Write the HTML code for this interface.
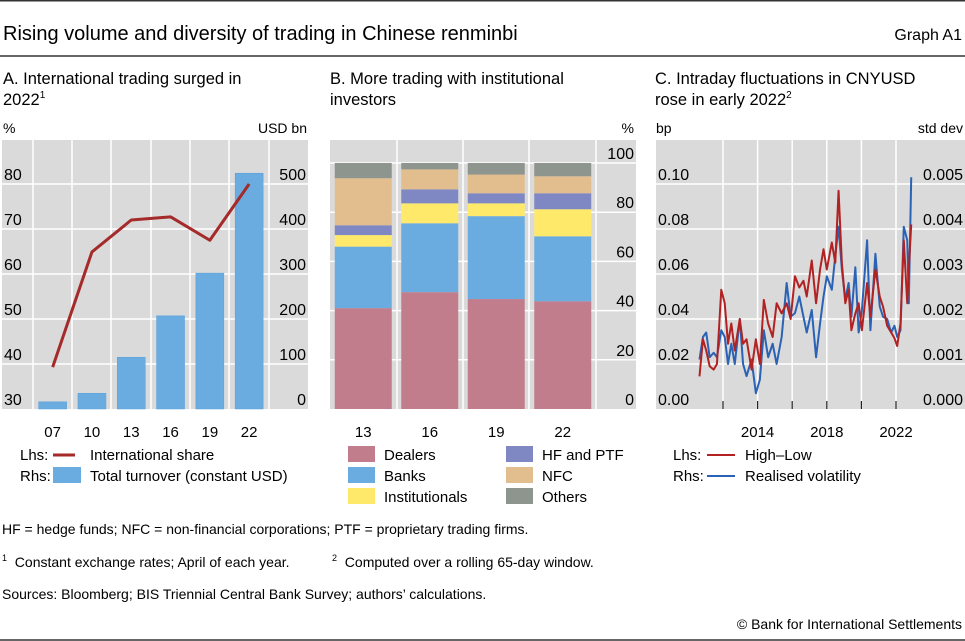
<!DOCTYPE html>
<html><head><meta charset="utf-8">
<style>
body{margin:0;background:#fff;width:965px;height:641px;overflow:hidden;font-family:"Liberation Sans",sans-serif;color:#000}
svg{display:block}
text{font-family:"Liberation Sans",sans-serif;fill:#000;white-space:pre}
</style></head>
<body>
<svg id="chart" width="965" height="641">
<line x1="0" y1="0.75" x2="965" y2="0.75" stroke="#333" stroke-width="1.5"/>
<text x="3" y="40" font-size="20">Rising volume and diversity of trading in Chinese renminbi</text>
<text x="962" y="40" font-size="16" text-anchor="end">Graph A1</text>
<line x1="0" y1="56" x2="965" y2="56" stroke="#333" stroke-width="1.5"/>
<text x="3" y="84" font-size="16.5">A. International trading surged in</text>
<text x="3" y="105" font-size="16.5">2022<tspan font-size="10" dy="-7">1</tspan></text>
<text x="330" y="84" font-size="16.5">B. More trading with institutional</text>
<text x="330" y="105" font-size="16.5">investors</text>
<text x="655" y="84" font-size="16.5">C. Intraday fluctuations in CNYUSD</text>
<text x="655" y="105" font-size="16.5">rose in early 2022<tspan font-size="10" dy="-7">2</tspan></text>
<g id="pa"></g><g id="pb"></g><g id="pc"></g>
<g font-size="15">
<text x="20" y="460">Lhs:</text>
<line x1="53" y1="455" x2="75" y2="455" stroke="#a52a2a" stroke-width="3"/>
<text x="90" y="460">International share</text>
<text x="20" y="481">Rhs:</text>
<rect x="53" y="467" width="28" height="16" fill="#6aace0"/>
<text x="90" y="481">Total turnover (constant USD)</text>
<rect x="348" y="446" width="27" height="16" fill="#c27d8d"/>
<text x="384" y="460">Dealers</text>
<rect x="348" y="467" width="27" height="16" fill="#6aace0"/>
<text x="384" y="481">Banks</text>
<rect x="348" y="488" width="27" height="16" fill="#ffe96b"/>
<text x="384" y="502">Institutionals</text>
<rect x="506" y="446" width="27" height="16" fill="#8088c4"/>
<text x="542" y="460">HF and PTF</text>
<rect x="506" y="467" width="27" height="16" fill="#e2be8e"/>
<text x="542" y="481">NFC</text>
<rect x="506" y="488" width="27" height="16" fill="#8e958e"/>
<text x="542" y="502">Others</text>
<text x="673" y="460">Lhs:</text>
<line x1="707" y1="455" x2="735" y2="455" stroke="#b22222" stroke-width="2"/>
<text x="745" y="460">High–Low</text>
<text x="673" y="481">Rhs:</text>
<line x1="707" y1="476" x2="735" y2="476" stroke="#2a62b5" stroke-width="2"/>
<text x="745" y="481">Realised volatility</text>
</g>
<g font-size="14">
<text x="2" y="534">HF = hedge funds; NFC = non-financial corporations; PTF = proprietary trading firms.</text>
<text x="2" y="567"><tspan font-size="9" dy="-6">1</tspan><tspan dy="6">  Constant exchange rates; April of each year.</tspan></text>
<text x="332" y="567"><tspan font-size="9" dy="-6">2</tspan><tspan dy="6">  Computed over a rolling 65-day window.</tspan></text>
<text x="2" y="599">Sources: Bloomberg; BIS Triennial Central Bank Survey; authors’ calculations.</text>
<text x="962" y="629" text-anchor="end">© Bank for International Settlements</text>
</g>
<line x1="0" y1="640" x2="965" y2="640" stroke="#333" stroke-width="1.5"/>
</svg>
<script>
// Panel A data
const aCats=["07","10","13","16","19","22"];
const aTurnover=[16,35,115,207,302,524];
const aShare=[39.3,64.9,72,72.7,67.5,80];
const aLeftTicks=[30,40,50,60,70,80];
const aRightTicks=[0,100,200,300,400,500];
// Panel B data
const bCats=["13","16","19","22"];
const bDealers=[41,47.5,44.7,43.8];
const bBanks=[25,28,33.7,26.4];
const bInst=[4.7,8.1,5.2,11];
const bHF=[4,5.7,4.1,6.5];
const bNFC=[19.1,8.1,7.6,6.9];
const bOthers=[6.2,2.6,4.7,5.4];
const bTicks=[0,20,40,60,80,100];
// Panel C data
const cYears=[2010.64,2010.84,2011.03,2011.23,2011.46,2011.65,2011.90,2012.10,2012.29,2012.48,2012.68,2012.97,2013.16,2013.36,2013.65,2013.90,2014.13,2014.36,2014.61,2014.87,2015.10,2015.39,2015.68,2015.91,2016.16,2016.41,2016.65,2016.84,2017.13,2017.38,2017.61,2017.81,2018.00,2018.29,2018.49,2018.68,2018.87,2019.07,2019.26,2019.42,2019.65,2019.84,2020.03,2020.33,2020.52,2020.81,2021.06,2021.25,2021.49,2021.72,2021.91,2022.07,2022.26,2022.45,2022.65,2022.74,2022.88];
const cHighLow=[0.0145,0.031,0.026,0.019,0.0175,0.020,0.053,0.047,0.029,0.038,0.026,0.040,0.029,0.031,0.0175,0.031,0.020,0.0485,0.038,0.032,0.047,0.0425,0.047,0.040,0.059,0.054,0.057,0.050,0.066,0.047,0.062,0.071,0.062,0.074,0.065,0.097,0.065,0.047,0.053,0.035,0.0425,0.047,0.035,0.056,0.041,0.062,0.050,0.0455,0.037,0.034,0.0315,0.028,0.038,0.075,0.047,0.062,0.082];
const cVol=[0.0011,0.0016,0.0017,0.00115,0.00125,0.00115,0.00175,0.0016,0.0010,0.00145,0.0010,0.0020,0.0010,0.00073,0.0011,0.00035,0.00065,0.00175,0.00115,0.00145,0.0010,0.0016,0.0028,0.00205,0.00213,0.0025,0.00205,0.0017,0.0022,0.00115,0.0019,0.0025,0.00295,0.00265,0.0034,0.00405,0.0031,0.00243,0.0028,0.00205,0.00315,0.0017,0.0022,0.00375,0.00175,0.00345,0.00228,0.00205,0.0020,0.0017,0.00185,0.0016,0.00175,0.00405,0.00375,0.00235,0.00515];
const cLeftTicks=[0,0.02,0.04,0.06,0.08,0.10];
const cRightTicks=[0,0.001,0.002,0.003,0.004,0.005];
const cXLabels=[2014,2018,2022];
const cGridYears=[2012,2014,2016,2018,2020,2022];

const NS="http://www.w3.org/2000/svg";
function mk(parent,tag,attrs){const e=document.createElementNS(NS,tag);for(const k in attrs)e.setAttribute(k,attrs[k]);parent.appendChild(e);return e;}
function txt(parent,x,y,s,anchor,size){const t=mk(parent,"text",{x:x,y:y,"font-size":size||15,"text-anchor":anchor||"start"});t.textContent=s;return t;}
const TOP=140,BOT=409;

// ---------- Panel A ----------
(function(){
 const g=document.getElementById("pa");
 const L=2,R=308;
 const yL=v=>409-(v-30)*4.5;
 const yR=v=>409-v*0.45;
 const bg=mk(g,"rect",{x:L,y:TOP,width:R-L,height:BOT-TOP,fill:"#dadada"});
 
 
 const xs=[33,72,111,151,190,229,269];
 xs.forEach(x=>mk(g,"line",{x1:x,y1:TOP,x2:x,y2:BOT,stroke:"#fff","stroke-width":1.5}));
 aLeftTicks.forEach(v=>{if(v>30)mk(g,"line",{x1:L,y1:yL(v),x2:R,y2:yL(v),stroke:"#fff","stroke-width":1.5});});
 const band=39.3, x0=33;
 aCats.forEach((c,i)=>{
  const cx=x0+band*(i+0.5);
  const b=mk(g,"rect",{x:cx-14,y:yR(aTurnover[i]),width:28,height:BOT-yR(aTurnover[i]),fill:"#6aace0",stroke:"#5a9fd8","stroke-width":0.5});
  
  
  const t=txt(g,cx,437,c,"middle");
  
  
 });
 const pts=aShare.map((v,i)=>(x0+band*(i+0.5))+","+yL(v)).join(" ");
 const pl=mk(g,"polyline",{points:pts,fill:"none",stroke:"#a52a2a","stroke-width":3,"stroke-linejoin":"round"});
 
 
 aLeftTicks.forEach(v=>{const t=txt(g,4,yL(v)-4,String(v),"start",16);
  
  });
 aRightTicks.forEach(v=>{const t=txt(g,306,yL(30)-(v*0.45)-4,String(v),"end",16);
  
  });
 const u1=txt(g,3,133,"%","start",14);u1.setAttribute("fill","#555");
 
 
 const u2=txt(g,307,133,"USD bn","end",14);u2.setAttribute("fill","#555");
 
 
})();

// ---------- Panel B ----------
(function(){
 const g=document.getElementById("pb");
 const L=330,R=636;
 const y=v=>409-v*2.46;
 const bg=mk(g,"rect",{x:L,y:TOP,width:R-L,height:BOT-TOP,fill:"#dadada"});
 
 
 [397,463,529,596].forEach(x=>mk(g,"line",{x1:x,y1:TOP,x2:x,y2:BOT,stroke:"#fff","stroke-width":1.5}));
 bTicks.forEach(v=>{if(v>0)mk(g,"line",{x1:L,y1:y(v),x2:R,y2:y(v),stroke:"#fff","stroke-width":1.5});});
 const series=[["dealers",bDealers,"#c27d8d"],["banks",bBanks,"#6aace0"],["institutionals",bInst,"#ffe96b"],["hf-ptf",bHF,"#8088c4"],["nfc",bNFC,"#e2be8e"],["others",bOthers,"#8e958e"]];
 const band=66.5;
 bCats.forEach((c,i)=>{
  const cx=L+band*(i+0.5);
  let cum=0;
  series.forEach(s=>{
   const v=s[1][i];
   const r=mk(g,"rect",{x:cx-28.5,y:y(cum+v),width:57,height:y(cum)-y(cum+v),fill:s[2]});
   
   
   cum+=v;
  });
  const t=txt(g,cx,437,c,"middle");
  
  
 });
 bTicks.forEach(v=>{const t=txt(g,634,y(v)-4,String(v),"end",16);
  
  });
 const u=txt(g,634,133,"%","end",14);u.setAttribute("fill","#555");
 
 
})();

// ---------- Panel C ----------
(function(){
 const g=document.getElementById("pc");
 const L=656,R=965;
 const yL=v=>409-v*2250;
 const yR=v=>409-v*45000;
 const x=yr=>723+(yr-2012)*17.3;
 const bg=mk(g,"rect",{x:L,y:TOP,width:R-L,height:BOT-TOP,fill:"#dadada"});
 
 
 cGridYears.forEach(yr=>{mk(g,"line",{x1:x(yr),y1:TOP,x2:x(yr),y2:BOT,stroke:"#fff","stroke-width":1.5});
  mk(g,"line",{x1:x(yr),y1:BOT-8,x2:x(yr),y2:BOT,stroke:"#222","stroke-width":1.2});});
 cLeftTicks.forEach(v=>{if(v>0)mk(g,"line",{x1:L,y1:yL(v),x2:R,y2:yL(v),stroke:"#fff","stroke-width":1.5});});
 const vp=mk(g,"polyline",{points:cYears.map((yr,i)=>x(yr)+","+yR(cVol[i])).join(" "),fill:"none",stroke:"#2a62b5","stroke-width":2,"stroke-linejoin":"round"});
 
 
 const hp=mk(g,"polyline",{points:cYears.map((yr,i)=>x(yr)+","+yL(cHighLow[i])).join(" "),fill:"none",stroke:"#b22222","stroke-width":2,"stroke-linejoin":"round"});
 
 
 cLeftTicks.forEach(v=>{const t=txt(g,658,yL(v)-4,v.toFixed(2),"start",16);
  
  });
 cRightTicks.forEach(v=>{const t=txt(g,963,yR(v)-4,v.toFixed(3),"end",16);
  
  });
 cXLabels.forEach(yr=>{const t=txt(g,x(yr),437,String(yr),"middle");
  
  });
 const u1=txt(g,656,133,"bp","start",14);u1.setAttribute("fill","#555");
 
 
 const u2=txt(g,963,133,"std dev","end",14);u2.setAttribute("fill","#555");
 
 
})();
</script>
</body></html>
